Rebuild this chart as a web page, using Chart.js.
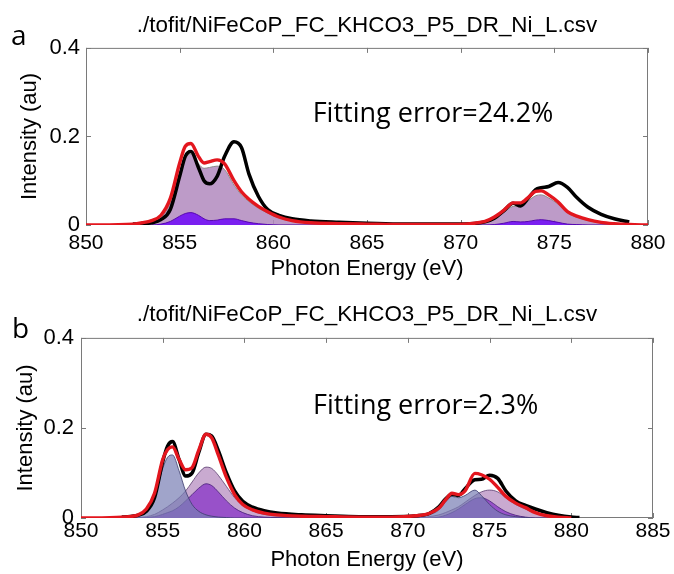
<!DOCTYPE html>
<html>
<head>
<meta charset="utf-8">
<script src="https://cdn.jsdelivr.net/npm/chart.js@4.4.0/dist/chart.umd.min.js"></script>
<style>
  body { margin: 0; background: #fff; }
  #wrap { position: relative; width: 674px; height: 574px; }
  canvas { position: absolute; left: 0; }
  #chartA { top: 0; }
  #chartB { top: 287px; }
</style>
</head>
<body>
<div id="wrap">
  <canvas id="chartA" width="674" height="287"></canvas>
  <canvas id="chartB" width="674" height="287"></canvas>
</div>
<script>
"use strict";

// ========== DATA ========== //
const fileTitle = './tofit/NiFeCoP_FC_KHCO3_P5_DR_Ni_L.csv';
const xTitle = 'Photon Energy (eV)';
const yTitle = 'Intensity (au)';
const yTicks = [0, 0.2, 0.4];

// panel a - one component fit
const energyA = [850, 852.5, 853, 853.5, 854, 854.5, 855, 855.3, 855.6, 856, 856.3, 856.6, 857, 857.4, 857.9, 858.3, 858.7, 859.2, 859.7, 860.3, 861, 862, 863.5, 865, 867, 869, 870.5, 871.3, 871.8, 872.3, 872.8, 873.2, 873.6, 874, 874.3, 874.7, 875.2, 875.7, 876.2, 876.8, 877.5, 878.2, 879, 880];
const expA = [null, 0.002, 0.003, 0.005, 0.012, 0.035, 0.11, 0.155, 0.166, 0.13, 0.1, 0.093, 0.11, 0.155, 0.188, 0.175, 0.115, 0.065, 0.035, 0.022, 0.014, 0.009, 0.006, 0.004, 0.002, 0.002, 0.003, 0.007, 0.015, 0.032, 0.049, 0.043, 0.06, 0.08, 0.084, 0.087, 0.096, 0.085, 0.062, 0.04, 0.024, 0.014, 0.007, null];
const fitA = [0, 0.002, 0.005, 0.01, 0.022, 0.06, 0.14, 0.178, 0.184, 0.155, 0.14, 0.143, 0.147, 0.138, 0.1, 0.075, 0.058, 0.042, 0.03, 0.018, 0.01, 0.005, 0.003, 0.002, 0.001, 0.001, 0.003, 0.008, 0.018, 0.033, 0.05, 0.05, 0.062, 0.076, 0.077, 0.068, 0.052, 0.03, 0.02, 0.012, 0.006, 0.003, 0.001, 0];
const peakA1 = [0, 0.001, 0.003, 0.007, 0.017, 0.05, 0.12, 0.152, 0.16, 0.138, 0.128, 0.13, 0.133, 0.125, 0.09, 0.068, 0.053, 0.038, 0.027, 0.016, 0.009, 0.004, 0.002, 0.001, 0, 0, 0.002, 0.006, 0.015, 0.028, 0.042, 0.043, 0.054, 0.066, 0.068, 0.061, 0.047, 0.027, 0.018, 0.01, 0.005, 0.002, 0.001, 0];
const peakA2 = [0, 0, 0, 0, 0.002, 0.008, 0.02, 0.026, 0.028, 0.022, 0.014, 0.01, 0.011, 0.014, 0.014, 0.01, 0.006, 0.003, 0.001, 0, 0, 0, 0, 0, 0, 0, 0, 0, 0.001, 0.004, 0.008, 0.007, 0.008, 0.011, 0.012, 0.01, 0.006, 0.002, 0.001, 0, 0, 0, 0, 0];

// panel b - three component fit
const energyB = [850, 852.5, 853.5, 854, 854.5, 855, 855.3, 855.6, 856, 856.4, 856.8, 857.2, 857.65, 858, 858.4, 858.9, 859.4, 859.9, 860.5, 861.2, 862, 863.5, 865, 867, 869, 870.5, 871.3, 871.9, 872.3, 872.7, 873.1, 873.5, 874.1, 874.5, 875, 875.5, 876, 876.6, 877.2, 877.8, 878.5, 879.2, 880, 880.5];
const expB = [null, 0.002, 0.006, 0.015, 0.045, 0.125, 0.16, 0.17, 0.13, 0.093, 0.1, 0.145, 0.186, 0.182, 0.15, 0.1, 0.06, 0.037, 0.024, 0.016, 0.011, 0.007, 0.005, 0.003, 0.003, 0.005, 0.01, 0.025, 0.042, 0.053, 0.05, 0.065, 0.085, 0.086, 0.095, 0.088, 0.06, 0.038, 0.028, 0.02, 0.012, 0.006, 0.002, 0.001];
const fitB = [0, 0.002, 0.007, 0.02, 0.055, 0.13, 0.152, 0.158, 0.13, 0.107, 0.112, 0.15, 0.186, 0.178, 0.14, 0.09, 0.052, 0.03, 0.018, 0.011, 0.007, 0.004, 0.003, 0.002, 0.002, 0.005, 0.01, 0.022, 0.04, 0.055, 0.052, 0.06, 0.099, 0.096, 0.086, 0.068, 0.048, 0.033, 0.023, 0.012, 0.005, 0.002, 0, null];
const peakB1 = [0, 0.001, 0.005, 0.015, 0.045, 0.11, 0.135, 0.14, 0.105, 0.06, 0.03, 0.015, 0.007, 0.004, 0.002, 0.001, 0, 0, 0, 0, 0, 0, 0, 0, 0, 0.002, 0.007, 0.018, 0.035, 0.048, 0.045, 0.05, 0.062, 0.05, 0.03, 0.015, 0.007, 0.003, 0.001, 0, 0, 0, 0, null];
const peakB2 = [0, 0, 0.001, 0.003, 0.008, 0.018, 0.025, 0.033, 0.045, 0.06, 0.08, 0.1, 0.113, 0.11, 0.095, 0.07, 0.045, 0.028, 0.016, 0.008, 0.004, 0.002, 0.001, 0, 0, 0.001, 0.003, 0.007, 0.012, 0.018, 0.025, 0.035, 0.05, 0.058, 0.062, 0.058, 0.045, 0.03, 0.02, 0.011, 0.005, 0.002, 0, null];
const peakB3 = [0, 0, 0, 0.001, 0.003, 0.008, 0.012, 0.016, 0.025, 0.038, 0.052, 0.066, 0.076, 0.072, 0.058, 0.038, 0.022, 0.012, 0.005, 0.002, 0.001, 0, 0, 0, 0, 0, 0, 0.002, 0.006, 0.012, 0.02, 0.03, 0.043, 0.045, 0.038, 0.025, 0.014, 0.006, 0.002, 0, 0, 0, 0, null];

// ========== HELPERS ========== //
const FONT = "'Liberation Sans', Arial, sans-serif";
const NOTE_FONT = "'Open Sans', 'Noto Sans', sans-serif";

function pts(xs, ys) {
    return xs.map((x, i) => ({ x: x, y: ys[i] }));
}

function line(data, color, width) {
    return {
        data: data,
        borderColor: color,
        borderWidth: width,
        pointRadius: 0,
        fill: false,
        cubicInterpolationMode: 'monotone'
    };
}

function area(data, fillColor, edgeColor) {
    return {
        data: data,
        borderColor: edgeColor,
        borderWidth: 1,
        backgroundColor: fillColor,
        pointRadius: 0,
        fill: 'origin',
        cubicInterpolationMode: 'monotone'
    };
}

// box round the plot + small inward ticks + panel letter + fitting error
const panelDecor = {
    id: 'panelDecor',
    beforeDatasetsDraw(chart, args, opts) {
        const { ctx, chartArea: a, scales } = chart;
        ctx.save();
        ctx.strokeStyle = '#7a7a7a';
        ctx.lineWidth = 1;
        ctx.strokeRect(a.left + 0.5, a.top + 0.5, a.right - a.left - 1, a.bottom - a.top - 1);
        ctx.beginPath();
        scales.x.ticks.forEach(t => {
            const px = Math.round(scales.x.getPixelForValue(t.value)) + 0.5;
            ctx.moveTo(px, a.bottom); ctx.lineTo(px, a.bottom - 5);
            ctx.moveTo(px, a.top); ctx.lineTo(px, a.top + 5);
        });
        scales.y.ticks.forEach(t => {
            const py = Math.round(scales.y.getPixelForValue(t.value)) + 0.5;
            ctx.moveTo(a.left, py); ctx.lineTo(a.left + 5, py);
            ctx.moveTo(a.right, py); ctx.lineTo(a.right - 5, py);
        });
        ctx.stroke();
        ctx.restore();
    },
    afterDraw(chart, args, opts) {
        const { ctx, scales } = chart;
        ctx.save();
        ctx.fillStyle = '#000';
        ctx.textBaseline = 'alphabetic';
        ctx.textAlign = 'left';
        ctx.font = '28px ' + NOTE_FONT;
        ctx.fillText(opts.letter, opts.letterX, opts.letterY);
        ctx.font = '27px ' + NOTE_FONT;
        ctx.fillText(opts.note, scales.x.getPixelForValue(opts.noteX), scales.y.getPixelForValue(opts.noteY));
        ctx.restore();
    }
};

function makePanel(id, cfg) {
    return new Chart(document.getElementById(id), {
        type: 'line',
        data: { datasets: cfg.datasets },
        plugins: [panelDecor],
        options: {
            responsive: false,
            animation: false,
            devicePixelRatio: 1,
            layout: { padding: { left: 0, right: cfg.padRight, top: 0, bottom: 0 } },
            plugins: {
                legend: { display: false },
                tooltip: { enabled: false },
                title: {
                    display: true,
                    text: fileTitle,
                    fullSize: false,
                    color: '#000',
                    font: { size: 22.4, family: FONT, weight: 'normal' },
                    padding: { top: cfg.titleTop, bottom: cfg.titleBottom }
                },
                panelDecor: cfg.decor
            },
            scales: {
                x: {
                    type: 'linear',
                    min: 850,
                    max: cfg.xMax,
                    afterFit: s => { s.height = cfg.xHeight; },
                    afterBuildTicks: s => { s.ticks = cfg.xTicks.map(v => ({ value: v })); },
                    ticks: { color: '#000', padding: cfg.xTickPad, font: { size: 21, family: FONT } },
                    grid: { display: false, drawTicks: false },
                    border: { display: false },
                    title: {
                        display: true, text: xTitle, color: '#000',
                        font: { size: 22, family: FONT },
                        padding: { top: 0, bottom: cfg.xTitlePad }
                    }
                },
                y: {
                    min: 0,
                    max: 0.4,
                    afterFit: s => { s.width = cfg.yWidth; },
                    afterBuildTicks: s => { s.ticks = yTicks.map(v => ({ value: v })); },
                    ticks: {
                        color: '#000', padding: cfg.yTickPad, font: { size: 22, family: FONT },
                        callback: v => (v === 0 ? '0' : v.toFixed(1))
                    },
                    grid: { display: false, drawTicks: false },
                    border: { display: false },
                    title: {
                        display: true, text: yTitle, color: '#000',
                        font: { size: 22, family: FONT },
                        padding: { top: cfg.yTitlePad, bottom: 0 }
                    }
                }
            }
        }
    });
}

// ========== PANEL A ========== //
makePanel('chartA', {
    xMax: 880,
    xTicks: [850, 855, 860, 865, 870, 875, 880],
    padRight: 26, yWidth: 86, xHeight: 62,
    titleTop: 12, titleBottom: 9,
    xTickPad: 6, xTitlePad: 5, yTickPad: 6, yTitlePad: 17,
    decor: { letter: 'a', letterX: 11, letterY: 45, note: 'Fitting error=24.2%', noteX: 862.1, noteY: 0.233 },
    datasets: [
        line(pts(energyA, fitA), '#e3161e', 3.4),
        line(pts(energyA, expA), '#000000', 3.5),
        area(pts(energyA, peakA2), '#7a1ff0', 'rgba(80,0,170,0.9)'),
        area(pts(energyA, peakA1), 'rgba(178,138,190,0.85)', '#8a8a8a')
    ]
});

// ========== PANEL B ========== //
makePanel('chartB', {
    xMax: 885,
    xTicks: [850, 855, 860, 865, 870, 875, 880, 885],
    padRight: 21, yWidth: 81, xHeight: 56,
    titleTop: 14, titleBottom: 10,
    xTickPad: 1, xTitlePad: 1, yTickPad: 7, yTitlePad: 13,
    decor: { letter: 'b', letterX: 12, letterY: 51, note: 'Fitting error=2.3%', noteX: 864.2, noteY: 0.231 },
    datasets: [
        line(pts(energyB, fitB), '#e3161e', 3.4),
        line(pts(energyB, expB), '#000000', 3.5),
        area(pts(energyB, peakB1), 'rgba(120,125,180,0.7)', 'rgba(60,60,110,0.8)'),
        area(pts(energyB, peakB3), 'rgba(140,60,200,0.8)', 'rgba(70,30,120,0.8)'),
        area(pts(energyB, peakB2), 'rgba(192,155,200,0.85)', 'rgba(90,60,110,0.8)')
    ]
});
</script>
</body>
</html>
